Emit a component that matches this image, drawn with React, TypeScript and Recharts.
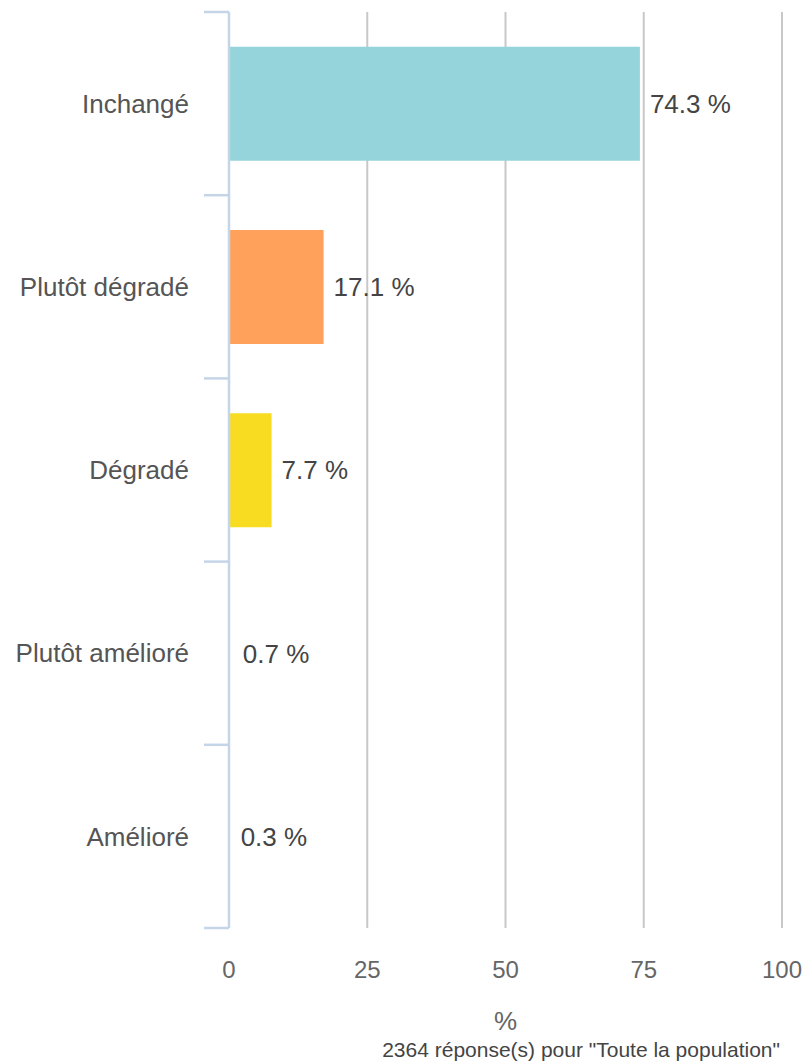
import React from 'react';
import { BarChart, Bar, XAxis, YAxis, CartesianGrid, Cell, LabelList } from 'recharts';

const categories = ['Inchangé', 'Plutôt dégradé', 'Dégradé', 'Plutôt amélioré', 'Amélioré'];
const values = [74.3, 17.1, 7.7, 0.7, 0.3];
const colors = ['#94d4da', '#ffa15a', '#f7dc22', 'transparent', 'transparent'];
const xTicks = [0, 25, 50, 75, 100];

const data = categories.map((name, i) => ({ name, value: values[i], color: colors[i] }));

const FONT = '"Liberation Sans", Arial, sans-serif';
const AXIS_COLOR = '#c5d5e8';
const LABEL_GAP = 40;
const TICK_LEN = 25;

const CategoryTick = (props: any) => {
  const { x, y, payload, index, visibleTicksCount } = props;
  const half = payload && typeof payload.offset === 'number' ? payload.offset : 0;
  const axisX = x + LABEL_GAP;
  const isLast = index === (visibleTicksCount ?? categories.length) - 1;
  return (
    <g>
      <line x1={axisX - TICK_LEN} x2={axisX} y1={y - half} y2={y - half} stroke={AXIS_COLOR} strokeWidth={2.5} />
      {isLast && (
        <line x1={axisX - TICK_LEN} x2={axisX} y1={y + half} y2={y + half} stroke={AXIS_COLOR} strokeWidth={2.5} />
      )}
      <text x={x} y={y} dy="0.355em" textAnchor="end" fill="#555" fontSize={26} fontFamily={FONT}>
        {payload.value}
      </text>
    </g>
  );
};

export default function App() {
  return (
    <div style={{ position: 'absolute', left: 0, top: 0, width: 808, height: 1064, fontFamily: FONT, background: '#fff' }}>
      <BarChart
        width={808}
        height={1064}
        data={data}
        layout="vertical"
        margin={{ top: 12, right: 26, bottom: 0, left: 0 }}
        barCategoryGap="19%"
      >
        <CartesianGrid horizontal={false} vertical stroke="#c8c8c8" strokeWidth={2} />
        <XAxis
          type="number"
          domain={[0, 100]}
          ticks={xTicks}
          axisLine={false}
          tickLine={false}
          tickSize={25}
          tickMargin={8}
          height={136}
          tick={{ fill: '#666', fontSize: 24, fontFamily: FONT }}
          label={{ value: '%', position: 'insideBottom', offset: 34, fill: '#666', fontSize: 26, fontFamily: FONT }}
        />
        <YAxis
          type="category"
          dataKey="name"
          width={229}
          interval={0}
          axisLine={{ stroke: AXIS_COLOR, strokeWidth: 2.5 }}
          tickLine={false}
          tickSize={38}
          tickMargin={2}
          tick={CategoryTick}
        />
        <Bar dataKey="value" isAnimationActive={false}>
          {data.map((d, i) => (
            <Cell key={i} fill={d.color} />
          ))}
          <LabelList
            dataKey="value"
            position="right"
            offset={10}
            formatter={(v: number) => `${v} %`}
            style={{ fill: '#444', fontSize: 26, fontFamily: FONT }}
          />
        </Bar>
      </BarChart>
      <div
        style={{
          position: 'absolute',
          right: 28,
          top: 1038,
          fontSize: 21,
          color: '#444',
          fontFamily: FONT,
          whiteSpace: 'nowrap',
          lineHeight: '24px',
        }}
      >
        2364 réponse(s) pour "Toute la population"
      </div>
    </div>
  );
}
